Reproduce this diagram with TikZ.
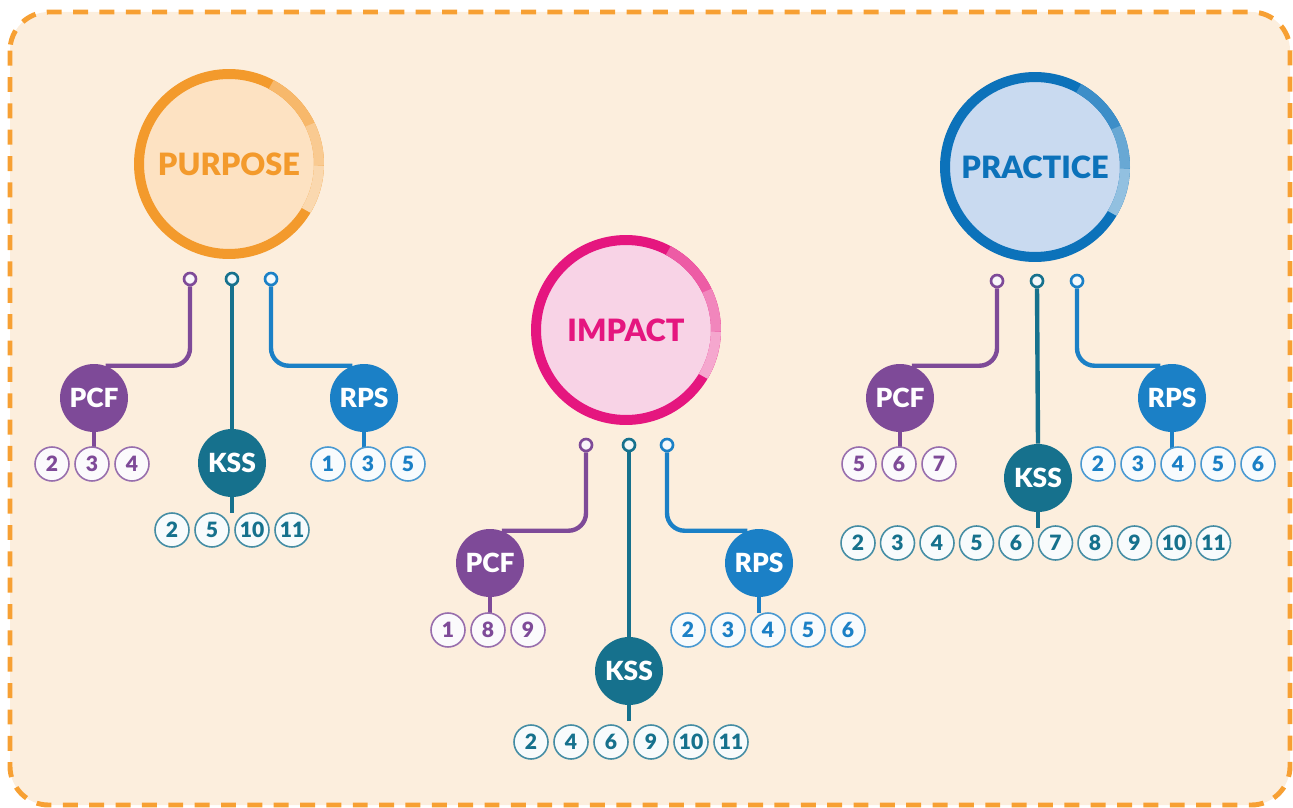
\documentclass[tikz,border=0pt]{standalone}
\usepackage{fontspec}
\setmainfont{Lato}[BoldFont={Lato Black}]
\usepackage{tikz}
\definecolor{bgpeach}{HTML}{FCEEDD}
\definecolor{frameorange}{HTML}{F7A033}
\definecolor{purposeorange}{HTML}{F39A2C}
\definecolor{purposefill}{HTML}{FDE2C2}
\definecolor{impactpink}{HTML}{E5167F}
\definecolor{impactfill}{HTML}{F8D3E6}
\definecolor{practiceblue}{HTML}{0C72BA}
\definecolor{practicefill}{HTML}{C9DAF0}
\definecolor{pcfpurple}{HTML}{7E4A98}
\definecolor{ksssteal}{HTML}{16718D}
\definecolor{rpsblue}{HTML}{1B80C6}

\begin{document}
\begin{tikzpicture}[x=0.02cm, y=-0.02cm,
  big/.style = {circle, draw=#1, line width=0.2cm, outer sep=0pt, minimum size=3.6cm, text=#1, font=\bfseries\fontsize{17.5}{20}\selectfont},
  badge/.style = {circle, fill=#1, text=white, minimum size=1.36cm, inner sep=0pt, font=\bfseries\fontsize{15}{18}\selectfont},
  num/.style = {circle, draw=#1!80!white, fill=#1!3!white, text=#1, line width=0.9pt, minimum size=0.68cm, inner sep=0pt, font=\bfseries\fontsize{12}{14}\selectfont},
  dot/.style = {circle, draw=#1, fill=#1!5!white, line width=1.5pt, minimum size=0.24cm, inner sep=0pt},
  link/.style = {draw=#1, line width=2.5pt, rounded corners=10pt},
  stem/.style = {draw=#1, line width=2.8pt}]
\useasboundingbox (0,0) rectangle (1293,807);
\draw[frameorange, fill=bgpeach, line width=2.8pt, dash pattern=on 8.5pt off 6.5pt, rounded corners=22pt] (10,12) rectangle (1290,805);

% purpose
\node[big=purposeorange, fill=purposefill] (purpose) at (229,164) {PURPOSE};
\draw[line width=0.2cm, purposeorange!70!white] (purpose.62) arc[start angle=62, end angle=26, radius=1.8cm];
\draw[line width=0.2cm, purposeorange!52!white] (purpose.26) arc[start angle=26, end angle=-1, radius=1.8cm];
\draw[line width=0.2cm, purposeorange!38!white] (purpose.-1) arc[start angle=-1, end angle=-31, radius=1.8cm];
\node[dot=pcfpurple] (dA1) at (190,279) {};
\node[dot=ksssteal] (dA2) at (232,279) {};
\node[dot=rpsblue] (dA3) at (271,279) {};
\node[badge=pcfpurple] (pcfA) at (94,398) {PCF};
\node[badge=ksssteal] (kssA) at (232,463) {KSS};
\node[badge=rpsblue] (rpsA) at (364,398) {RPS};
\draw[link=pcfpurple] (dA1.south) |- (pcfA.70);
\draw[link=ksssteal] (dA2.south) -- (kssA.north);
\draw[link=rpsblue] (dA3.south) |- (rpsA.110);
\draw[stem=pcfpurple] (pcfA.south) -- ++(0,16);
\draw[stem=ksssteal] (kssA.south) -- ++(0,16);
\draw[stem=rpsblue] (rpsA.south) -- ++(0,16);
\foreach \n [count=\i from 0] in {2,3,4}
  \node[num=pcfpurple] (pcfA\n) at (52+40*\i,464) {\n};
\foreach \n [count=\i from 0] in {2,5,10,11}
  \node[num=ksssteal] (kssA\n) at (172+40*\i,530) {\n};
\foreach \n [count=\i from 0] in {1,3,5}
  \node[num=rpsblue] (rpsA\n) at (328+40*\i,464) {\n};

% impact
\node[big=impactpink, fill=impactfill] (impact) at (626,330) {IMPACT};
\draw[line width=0.2cm, impactpink!70!white] (impact.62) arc[start angle=62, end angle=26, radius=1.8cm];
\draw[line width=0.2cm, impactpink!52!white] (impact.26) arc[start angle=26, end angle=-1, radius=1.8cm];
\draw[line width=0.2cm, impactpink!38!white] (impact.-1) arc[start angle=-1, end angle=-31, radius=1.8cm];
\node[dot=pcfpurple] (dB1) at (586,445) {};
\node[dot=ksssteal] (dB2) at (629,445) {};
\node[dot=rpsblue] (dB3) at (667,445) {};
\node[badge=pcfpurple] (pcfB) at (490,563) {PCF};
\node[badge=ksssteal] (kssB) at (629,671) {KSS};
\node[badge=rpsblue] (rpsB) at (759,563) {RPS};
\draw[link=pcfpurple] (dB1.south) |- (pcfB.70);
\draw[link=ksssteal] (dB2.south) -- (kssB.north);
\draw[link=rpsblue] (dB3.south) |- (rpsB.110);
\draw[stem=pcfpurple] (pcfB.south) -- ++(0,16);
\draw[stem=ksssteal] (kssB.south) -- ++(0,16);
\draw[stem=rpsblue] (rpsB.south) -- ++(0,16);
\foreach \n [count=\i from 0] in {1,8,9}
  \node[num=pcfpurple] (pcfB\n) at (448+40*\i,630) {\n};
\foreach \n [count=\i from 0] in {2,4,6,9,10,11}
  \node[num=ksssteal] (kssB\n) at (531+40*\i,742) {\n};
\foreach \n [count=\i from 0] in {2,3,4,5,6}
  \node[num=rpsblue] (rpsB\n) at (688+40*\i,630) {\n};

% practice
\node[big=practiceblue, fill=practicefill] (practice) at (1035,167) {PRACTICE};
\draw[line width=0.2cm, practiceblue!80!white] (practice.61) arc[start angle=61, end angle=26, radius=1.8cm];
\draw[line width=0.2cm, practiceblue!62!white] (practice.26) arc[start angle=26, end angle=-1, radius=1.8cm];
\draw[line width=0.2cm, practiceblue!45!white] (practice.-1) arc[start angle=-1, end angle=-31, radius=1.8cm];
\node[dot=pcfpurple] (dC1) at (997,281) {};
\node[dot=ksssteal] (dC2) at (1037,281) {};
\node[dot=rpsblue] (dC3) at (1077,281) {};
\node[badge=pcfpurple] (pcfC) at (900,398) {PCF};
\node[badge=ksssteal] (kssC) at (1038,478) {KSS};
\node[badge=rpsblue] (rpsC) at (1172,398) {RPS};
\draw[link=pcfpurple] (dC1.south) |- (pcfC.70);
\draw[link=ksssteal] (dC2.south) -- (kssC.north);
\draw[link=rpsblue] (dC3.south) |- (rpsC.110);
\draw[stem=pcfpurple] (pcfC.south) -- ++(0,16);
\draw[stem=ksssteal] (kssC.south) -- ++(0,16);
\draw[stem=rpsblue] (rpsC.south) -- ++(0,16);
\foreach \n [count=\i from 0] in {5,6,7}
  \node[num=pcfpurple] (pcfC\n) at (859+40*\i,464) {\n};
\foreach \n [count=\i from 0] in {2,3,4,5,6,7,8,9,10,11}
  \node[num=ksssteal] (kssC\n) at (858+39.5*\i,543) {\n};
\foreach \n [count=\i from 0] in {2,3,4,5,6}
  \node[num=rpsblue] (rpsC\n) at (1098+40*\i,464) {\n};
\end{tikzpicture}
\end{document}
